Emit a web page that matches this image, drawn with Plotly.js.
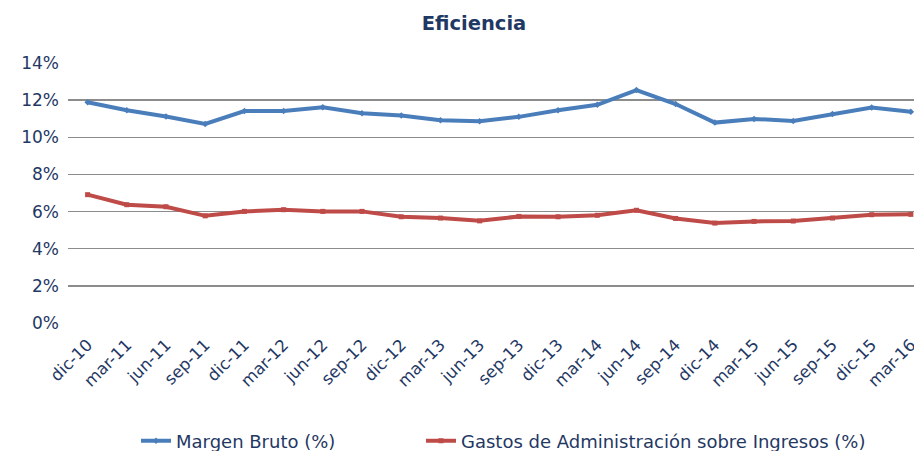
<!DOCTYPE html>
<html>
<head>
<meta charset="utf-8">
<script src="https://cdn.plot.ly/plotly-3.0.1.min.js"></script>
<style>html,body{margin:0;padding:0;background:#fff;}#chart{width:914px;height:451px;}</style>
</head>
<body>
<div id="chart"></div>
<script>
const categories = ["dic-10","mar-11","jun-11","sep-11","dic-11","mar-12","jun-12","sep-12","dic-12","mar-13","jun-13","sep-13","dic-13","mar-14","jun-14","sep-14","dic-14","mar-15","jun-15","sep-15","dic-15","mar-16"];
const margenBruto = [11.89,11.46,11.12,10.72,11.41,11.41,11.62,11.30,11.17,10.92,10.87,11.10,11.46,11.75,12.54,11.79,10.79,10.99,10.88,11.25,11.60,11.37];
const gastosAdmin = [6.91,6.37,6.26,5.77,6.01,6.10,6.01,6.01,5.72,5.65,5.50,5.74,5.72,5.80,6.07,5.63,5.38,5.47,5.49,5.65,5.83,5.85];
const seriesNames = ["Margen Bruto (%)","Gastos de Administración sobre Ingresos (%)"];
const yTicks = [0,2,4,6,8,10,12,14];

const navy = "#1F3864";
const traces = [
  {x: categories, y: margenBruto, name: seriesNames[0], type: "scatter", mode: "lines+markers",
   line: {color: "#4A7EBB", width: 4}, marker: {color: "#4A7EBB", size: 5, symbol: "diamond"}, legend: "legend"},
  {x: categories, y: gastosAdmin, name: seriesNames[1], type: "scatter", mode: "lines+markers",
   line: {color: "#BE4B48", width: 4}, marker: {color: "#BE4B48", size: 5, symbol: "square"}, legend: "legend2"}
];
const legendBase = {orientation: "h", xref: "container", yref: "container", xanchor: "left",
                    y: (451 - 441) / 451, yanchor: "middle", font: {size: 18, color: navy},
                    bgcolor: "rgba(0,0,0,0)"};
const layout = {
  width: 914, height: 451,
  margin: {l: 68, r: 0, t: 63, b: 128},
  paper_bgcolor: "#fff", plot_bgcolor: "#fff",
  font: {family: "DejaVu Sans, Verdana, sans-serif", color: navy, size: 17},
  title: {text: "<b>Eficiencia</b>", x: 474/914, xanchor: "center", xref: "container",
          y: 1 - 23/451, yanchor: "middle", yref: "container",
          font: {family: "DejaVu Sans, Verdana, sans-serif", size: 19.5, color: navy}},
  xaxis: {type: "category", range: [-0.5, 21.08], tickangle: -45, showgrid: false, zeroline: false,
          showline: false, ticks: "", ticklabelstandoff: 8, tickfont: {size: 16.5, color: navy},
          fixedrange: true, automargin: false},
  yaxis: {range: [0, 14], tickvals: yTicks, ticktext: yTicks.map(v => v + "%"),
          showgrid: true, gridcolor: "#8C8C8C", gridwidth: 1.5, zeroline: false, showline: false,
          ticks: "", ticklabelstandoff: 8, tickfont: {size: 17, color: navy}, fixedrange: true, automargin: false},
  showlegend: true,
  legend: Object.assign({}, legendBase, {x: 136/914}),
  legend2: Object.assign({}, legendBase, {x: 421/914})
};
Plotly.newPlot("chart", traces, layout, {displayModeBar: false, staticPlot: true});
</script>
</body>
</html>
